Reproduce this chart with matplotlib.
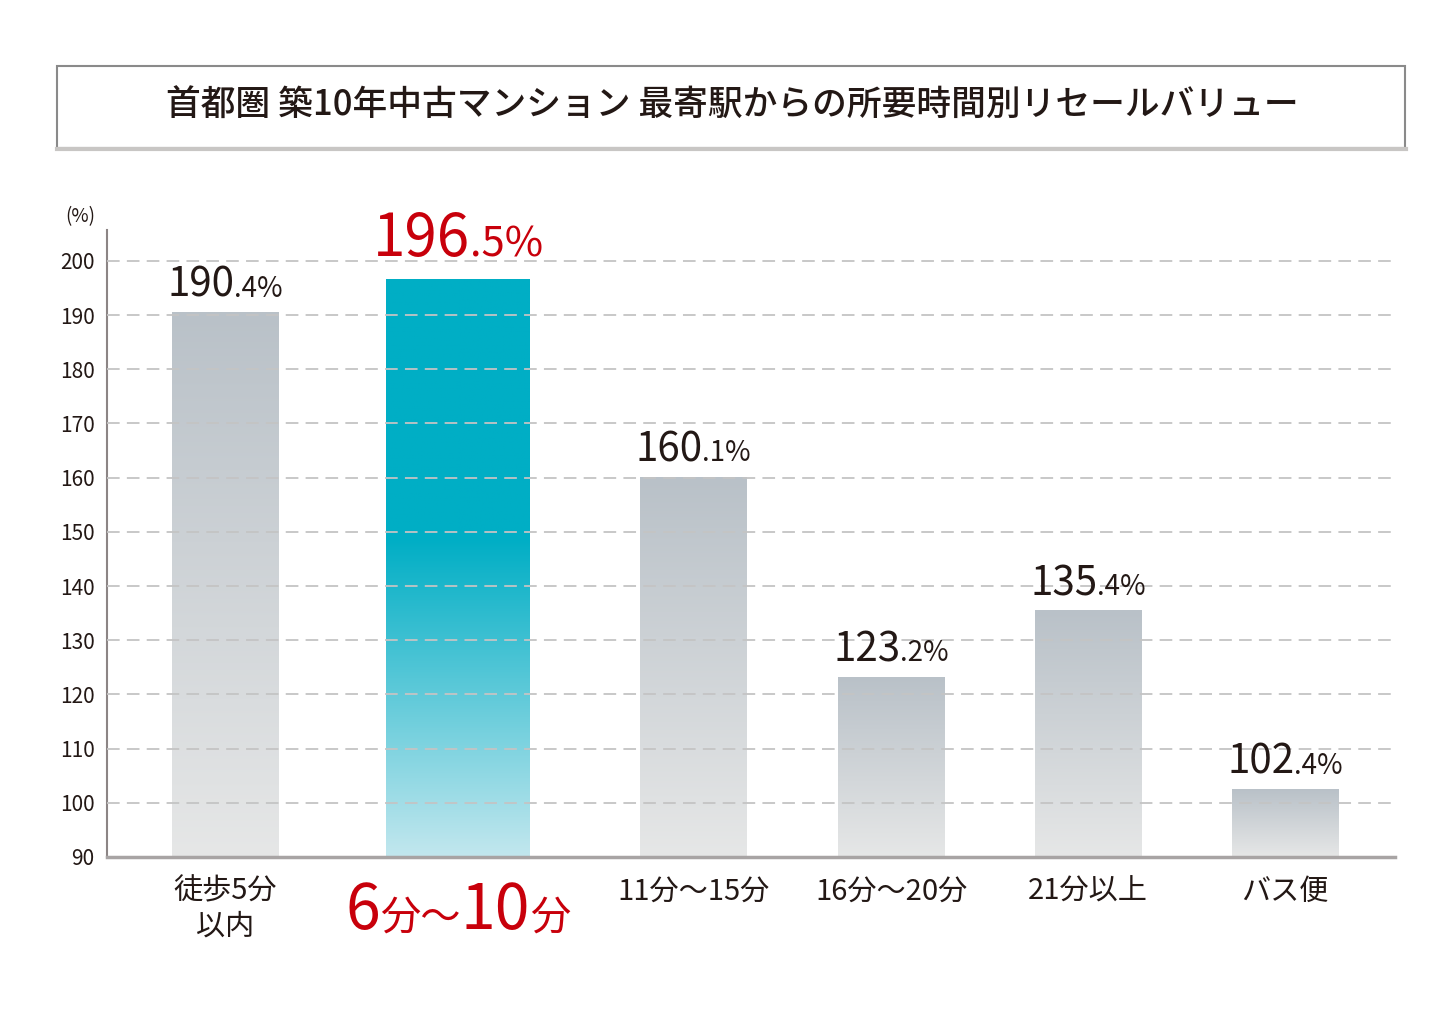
import numpy as np
import matplotlib
matplotlib.use("Agg")
import matplotlib.pyplot as plt
from matplotlib.colors import LinearSegmentedColormap
from matplotlib.patches import Rectangle
from matplotlib.lines import Line2D
from matplotlib.offsetbox import TextArea, HPacker, AnnotationBbox

plt.rcParams['font.family'] = ['Noto Sans CJK JP', 'DejaVu Sans']

title = '首都圏 築10年中古マンション 最寄駅からの所要時間別リセールバリュー'
categories = ['徒歩5分\n以内', '6分〜10分', '11分〜15分', '16分〜20分', '21分以上', 'バス便']
values = [190.4, 196.5, 160.1, 123.2, 135.4, 102.4]
highlight = 1
yticks = [90, 100, 110, 120, 130, 140, 150, 160, 170, 180, 190, 200]

# layout (bar centres are not evenly spaced in the original)
xpos = [0, 1.183, 2.376, 3.381, 4.381, 5.381]
widths = [0.54, 0.73, 0.54, 0.54, 0.54, 0.54]
base = 90
dark = '#231815'
red = '#c8000b'

gray_cmap = LinearSegmentedColormap.from_list('g', ['#e6e7e7', '#b9c1c8'])
teal_cmap = LinearSegmentedColormap.from_list(
    't', [(0, '#c2e7ee'), (0.55, '#00aec5'), (1, '#00aec5')])

fig = plt.figure(figsize=(14.56, 10.1), dpi=100)
ax = fig.add_axes([107 / 1456, 1 - 857 / 1010, (1395 - 107) / 1456, (857 - 230) / 1010])

grad = np.linspace(0, 1, 256).reshape(-1, 1)
for i, (x, w, v) in enumerate(zip(xpos, widths, values)):
    cm = teal_cmap if i == highlight else gray_cmap
    ax.imshow(grad, cmap=cm, origin='lower', aspect='auto',
              extent=[x - w / 2, x + w / 2, base, v], zorder=1)

ax.set_xlim(-0.6, 5.94)
ax.set_ylim(base, 205.7)

for t in yticks[1:]:
    ax.axhline(t, color='#c4c4c4', lw=1.3, ls=(0, (7, 4)), zorder=3)

ax.set_yticks(yticks)
ax.set_yticklabels([str(t) for t in yticks], fontsize=15, color=dark)
ax.tick_params(axis='y', length=0, pad=9)
ax.set_xticks([])
for s in ['top', 'right']:
    ax.spines[s].set_visible(False)
ax.spines['left'].set_color('#8c8585')
ax.spines['left'].set_linewidth(1.5)
ax.spines['bottom'].set_color('#a8a4a4')
ax.spines['bottom'].set_linewidth(2.5)
ax.spines['bottom'].set_zorder(4)

ax.text(-0.009, 208.2, '(%)', fontsize=13.5, color=dark, ha='right', va='center',
        transform=ax.get_yaxis_transform(), clip_on=False)


def packed(parts, color, align='baseline'):
    boxes = [TextArea(s, textprops=dict(fontsize=fs, color=color)) for s, fs in parts]
    return HPacker(children=boxes, align=align, pad=0, sep=0)


# value labels
for i, (x, v) in enumerate(zip(xpos, values)):
    whole, dec = f'{v:.1f}'.split('.')
    if i == highlight:
        parts = [(whole, 42), ('.' + dec + '%', 30)]
        col, off = red, 7
    else:
        parts = [(whole, 29), ('.' + dec + '%', 20)]
        col, off = dark, 5
    ab = AnnotationBbox(packed(parts, col), (x, v), xybox=(0, off),
                        xycoords='data', boxcoords='offset points',
                        box_alignment=(0.5, 0), frameon=False, pad=0,
                        annotation_clip=False)
    ax.add_artist(ab)

# category labels
for i, (x, c) in enumerate(zip(xpos, categories)):
    if i == highlight:
        parts = [('6', 45), ('分〜', 29), ('10', 45), ('分', 29)]
        ab = AnnotationBbox(packed(parts, red), (x, base), xybox=(0, -16),
                            xycoords='data', boxcoords='offset points',
                            box_alignment=(0.5, 1), frameon=False, pad=0,
                            annotation_clip=False)
        ax.add_artist(ab)
    else:
        ax.text(x, base - 3.6, c, fontsize=21, color=dark, ha='center',
                va='top', linespacing=1.2, clip_on=False)

# title box
fig.patches.append(Rectangle((57 / 1456, 1 - 148 / 1010), (1405 - 57) / 1456,
                             (148 - 66) / 1010, transform=fig.transFigure,
                             fill=False, edgecolor='#8a8a8a', lw=1.5))
fig.lines.append(Line2D([57 / 1456, 1406 / 1456], [1 - 149 / 1010, 1 - 149 / 1010],
                        transform=fig.transFigure, color='#c8c6c4', lw=3))
fig.text(0.503, 1 - 106 / 1010, title, fontsize=25, color=dark,
         ha='center', va='center', fontweight='medium')

fig.savefig('out.png', dpi=100)
